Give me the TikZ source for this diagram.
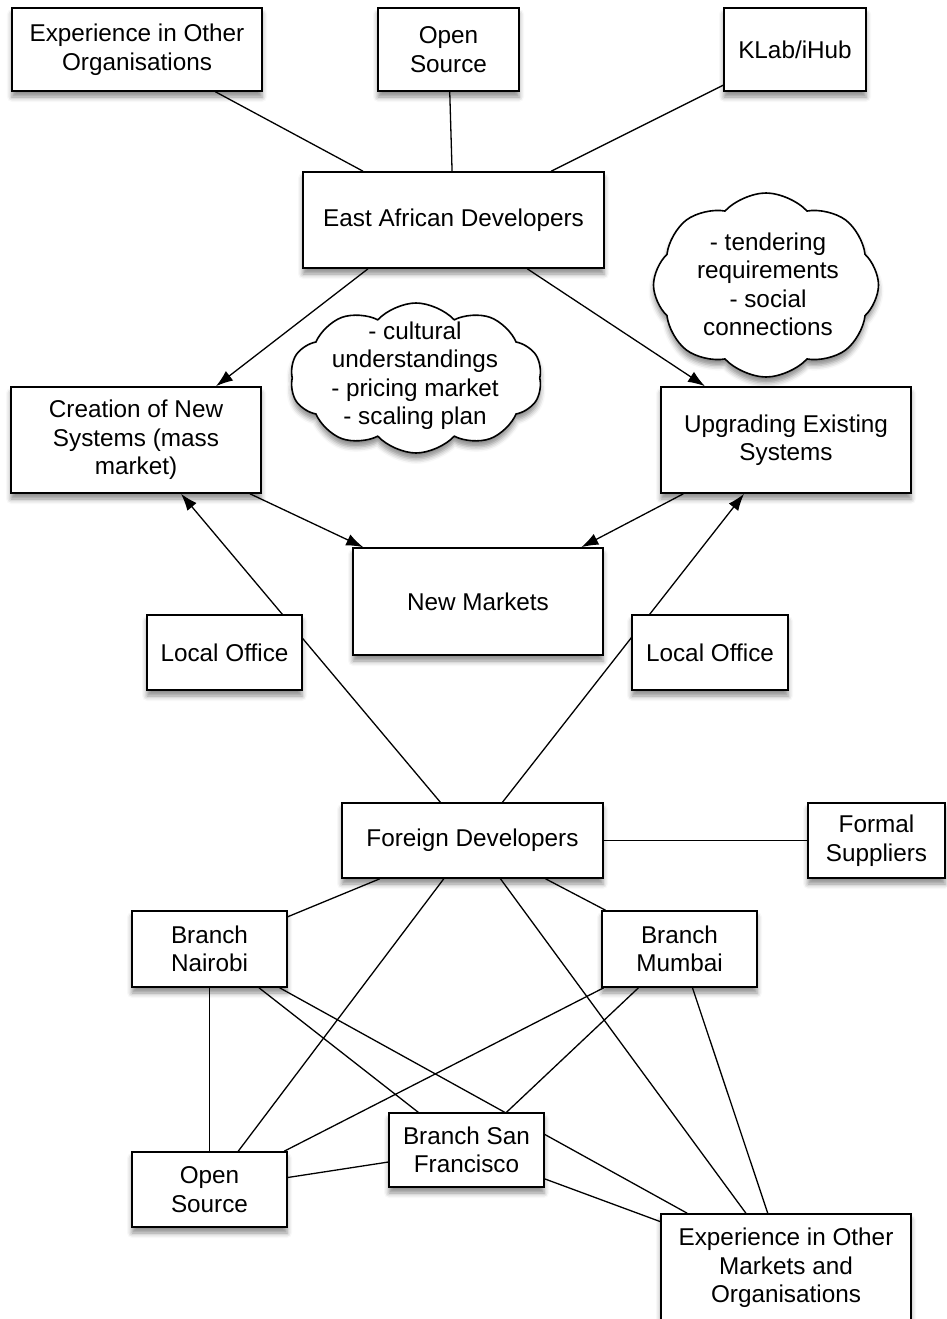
\documentclass[tikz,border=0pt]{standalone}
\usepackage{fontspec}
\setmainfont{Liberation Sans}
\usetikzlibrary{arrows.meta,shapes.symbols,shadows.blur,backgrounds}
\tikzset{
  lbl/.style={font=\fontsize{24.3}{28.5}\selectfont, align=center},
  shad/.style={blur shadow={shadow xshift=0pt, shadow yshift=-6pt, shadow blur radius=5pt, shadow opacity=45}},
  box/.style={lbl, shad, draw=black, line width=1.6pt, fill=white, inner sep=0pt},
  cloudbox/.style={shad, cloud, cloud puff arc=95, cloud ignores aspect, draw=black, line width=1.6pt, fill=white, inner sep=0pt},
  conn/.style={line width=1.3pt},
  arr/.style={conn, -{Latex[length=17pt,width=12pt]}},
}
\begin{document}
\begin{tikzpicture}[x=1pt,y=-1pt]
\useasboundingbox (0,0) rectangle (946,1319);
% top
\node[box, minimum width=250, minimum height=83] (expo) at (137,49.5) {Experience in Other\\Organisations};
\node[box, minimum width=141, minimum height=83] (os1) at (448.5,49.5) {Open\\Source};
\node[box, minimum width=142, minimum height=83] (klab) at (795,49.5) {KLab/iHub};
\node[box, minimum width=301, minimum height=96] (ead) at (453.5,220) {East African Developers};
\node[cloudbox, cloud puffs=8, minimum width=225, minimum height=184] (c1shape) at (766,285) {};
\node[lbl] (c1) at (768,284.5) {- tendering\\requirements\\- social\\connections};
\node[cloudbox, cloud puffs=10, minimum width=252, minimum height=150] (c2shape) at (416,378) {};
\node[lbl] (c2) at (415,375.5) {- cultural\\understandings\\- pricing market\\- scaling plan};
\node[box, minimum width=250, minimum height=106] (creat) at (136,440) {Creation of New\\Systems (mass\\market)};
\node[box, minimum width=250, minimum height=106] (upg) at (786,440) {Upgrading Existing\\Systems};
\node[box, minimum width=250, minimum height=107] (nm) at (478,601.5) {New Markets};
\node[box, minimum width=155, minimum height=75] (lo1) at (224.5,652.5) {Local Office};
\node[box, minimum width=156, minimum height=75] (lo2) at (710,652.5) {Local Office};
% bottom
\node[box, minimum width=261, minimum height=75] (fd) at (472.5,840.5) {Foreign Developers};
\node[box, minimum width=137, minimum height=75] (fs) at (876.5,840.5) {Formal\\Suppliers};
\node[box, minimum width=155, minimum height=76] (bn) at (209.5,949) {Branch\\Nairobi};
\node[box, minimum width=155, minimum height=76] (bm) at (679.5,949) {Branch\\Mumbai};
\node[box, minimum width=155, minimum height=75] (os2) at (209.5,1189.5) {Open\\Source};
\node[box, minimum width=155, minimum height=74] (sf) at (466.5,1150) {Branch San\\Francisco};
\node[box, minimum width=250, minimum height=108] (em) at (786,1268) {Experience in Other\\Markets and\\Organisations};
\begin{scope}[on background layer]
\draw[conn] (expo) -- (ead);
\draw[conn] (os1) -- (ead);
\draw[conn] (klab) -- (ead);
\draw[arr] (ead.south -| 368,0) -- (creat.north -| 216,0);
\draw[arr] (ead) -- (upg);
\draw[arr] (creat) -- (nm);
\draw[arr] (upg) -- (nm);
\draw[arr] (fd) -- (creat);
\draw[arr] (fd) -- (upg);
\draw[conn] (fd) -- (fs);
\draw[conn] (fd) -- (bn);
\draw[conn] (fd) -- (bm);
\draw[conn] (fd) -- (os2);
\draw[conn] (fd) -- (em);
\draw[conn] (bn) -- (os2);
\draw[conn] (bn) -- (sf);
\draw[conn] (bn) -- (em);
\draw[conn] (bm) -- (os2);
\draw[conn] (bm) -- (sf);
\draw[conn] (bm) -- (em);
\draw[conn] (os2) -- (sf);
\draw[conn] (sf) -- (em);
\end{scope}
\end{tikzpicture}
\end{document}
